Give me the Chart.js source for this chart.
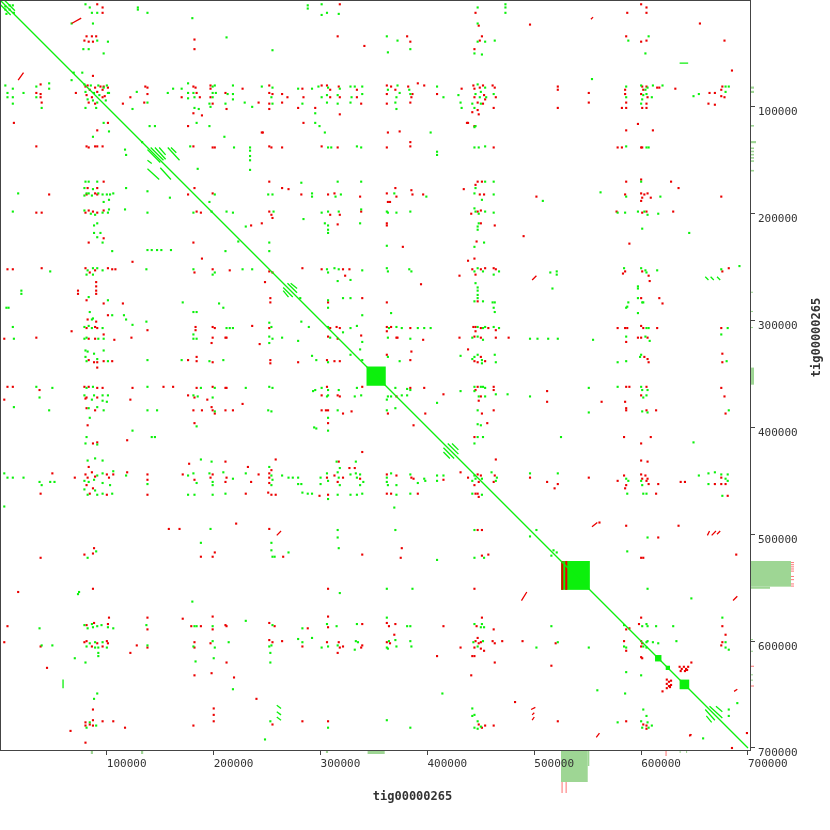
<!DOCTYPE html>
<html>
<head>
<meta charset="utf-8">
<script src="https://cdn.jsdelivr.net/npm/chart.js@4.4.1/dist/chart.umd.min.js"></script>
<style>
html, body { margin: 0; padding: 0; background: #fff; }
canvas { display: block; }
</style>
</head>
<body>
<canvas id="grafico" width="830" height="830"></canvas>
<script>
/*
* Dados do dotplot (posicoes em kb)
*/
const contigName = 'tig00000265'
const tickValues = [100000, 200000, 300000, 400000, 500000, 600000, 700000]
const axisMax = 701872
const diagonal = [0, 700]

// alinhamentos diretos (verde)
const fwdHits = [
  [5,6],[9,5],[12,5],[5,9],[9,9],[13,12],[6,13],
  [80,4],[84,7],[86,12],[91,12],[87,22],[129,7],[129,9],[138,12],[180,17],[67,22],[473,4],[473,7],[473,12],[447,7],[447,22],[288,5],[288,8],[301,4],[301,14],[306,12],[317,13],
  [91,38],[101,39],[78,46],[83,46],[97,50],[212,35],[255,47],[362,34],[372,38],[384,46],[363,49],[447,39],[454,39],[463,38],[444,50],[451,51],[588,38],[607,34],[604,50],
  [5,80],[7,87],[7,91],[12,83],[12,91],[12,97],[22,87],[34,81],[34,91],[39,101],[46,78],[46,83],[67,75],[69,68],[77,68],
  [79,79],[80,86],[85,80],[88,87],[92,80],[93,89],[82,93],[87,94],[91,96],[97,82],[99,94],[101,87],[80,101],[90,101],[100,80],[102,87],
  [128,86],[138,96],[124,102],[157,87],[162,83],[170,83],[176,78],[176,87],[176,92],[181,87],[182,91],[182,101],[186,102],[199,81],[201,80],[199,87],[202,87],[199,91],[196,97],[197,100],[213,88],[211,97],[218,88],[218,93],[218,80],[229,96],[236,100],[245,81],[255,82],[254,91],[255,97],[279,83],[283,97],[292,83],[295,106],[298,81],[301,91],[307,82],[306,89],[306,96],[318,83],[316,89],[316,97],[328,81],[332,81],[339,81],[329,91],[339,88],[328,96],
  [363,84],[372,80],[371,91],[370,96],[371,102],[374,87],[383,84],[384,88],[409,81],[415,91],[429,89],[431,96],[432,101],[445,118],
  [445,88],[447,79],[450,86],[449,91],[454,82],[455,91],[462,88],[442,97],[450,97],[444,101],[554,74],
  [586,81],[586,91],[600,80],[604,84],[606,82],[602,89],[605,88],[601,93],[600,97],[610,91],[611,80],[620,80],[649,90],[654,88],[679,81],[679,86],[682,81],
  [97,115],[87,128],[102,123],[140,118],[145,118],[184,115],[196,118],[210,128],[295,115],[299,118],[304,124],[403,124],[444,119],
  [117,140],[118,145],[178,137],[219,138],[234,138],[234,141],[234,146],[234,150],[234,159],[307,138],[310,138],[334,137],[338,138],[409,142],[409,145],[444,138],[448,138],[454,137],[586,137],[605,138],[607,138],[133,133],
  [80,170],[83,170],[91,170],[79,176],[87,177],[81,181],[83,181],[92,181],[79,183],[86,183],[96,182],[100,182],[103,182],[102,187],[97,189],[106,181],[17,181],[118,176],[138,179],[159,185],[185,158],[201,182],[196,189],[251,182],[255,182],[282,171],[292,181],[292,184],[314,184],[316,170],[319,182],[338,170],[369,181],[399,184],[445,176],[444,181],[454,170],[451,187],[462,170],[462,182],[508,188],[562,180],[586,184],[600,170],[618,184],
  [12,198],[79,197],[85,200],[89,201],[96,199],[101,199],[102,196],[117,196],[138,199],[181,199],[198,198],[212,198],[218,199],[256,198],[284,205],[301,199],[307,198],[317,198],[338,196],[304,209],[307,211],[307,215],[307,218],[337,209],[362,198],[363,199],[371,199],[384,198],[444,195],[445,198],[448,200],[454,198],[462,199],[448,209],[447,212],[447,215],[578,199],[585,199],[597,198],[603,198],[606,201],[616,200],[601,214],[645,218],[91,209],[88,211],[88,218],[91,222],[94,218],[96,227],[105,235],
  [138,234],[142,234],[147,234],[151,234],[160,234],[211,235],[223,226],[230,212],[252,227],[252,235],[362,230],[444,231],[453,227],
  [47,254],[82,253],[87,251],[91,251],[96,253],[81,257],[87,257],[137,252],[181,252],[201,255],[199,257],[227,252],[236,252],[306,252],[307,255],[313,251],[317,252],[339,253],[328,262],[316,263],[362,251],[363,254],[383,252],[385,254],[444,254],[447,251],[452,254],[462,257],[467,254],[445,265],[515,255],[521,254],[521,257],[517,270],[584,251],[600,251],[604,253],[605,255],[615,253],[675,252],[692,249],
  [20,272],[20,275],[83,278],[281,279],[328,279],[307,281],[321,279],[444,282],[452,282],[461,283],[463,283],[462,288],[463,292],[447,269],[447,272],[447,276],[447,279],[586,288],[588,283],[597,279],[597,293],[601,283],[597,268],[597,270],[6,288],[8,288],[366,293],[101,281],[171,283],[205,284],
  [12,306],[13,317],[79,306],[83,305],[86,307],[96,307],[79,317],[81,316],[92,317],[97,317],[86,299],[87,298],[84,292],[105,295],[116,295],[118,299],[124,304],[137,301],[181,292],[184,292],[181,313],[181,317],[184,317],[209,288],[212,307],[215,307],[218,307],[252,302],[254,306],[252,315],[255,317],[252,321],[264,316],[279,319],[282,301],[289,306],[307,288],[307,306],[309,316],[321,311],[328,307],[334,305],[339,320],[339,295],
  [364,307],[371,306],[376,307],[391,307],[397,307],[403,307],[363,316],[384,317],[442,316],[447,306],[452,307],[454,306],[462,306],[467,307],[447,315],[452,318],[496,317],[503,317],[513,317],[522,317],[555,318],[586,315],[587,287],[605,307],[607,307],[604,315],[608,319],[681,307],[675,313],[602,283],
  [80,328],[82,329],[88,331],[80,334],[81,338],[91,336],[101,338],[97,328],[138,337],[170,337],[196,338],[209,337],[292,333],[296,337],[307,339],[328,332],[339,337],[337,327],[363,334],[374,338],[431,333],[442,336],[444,334],[447,332],[451,337],[451,340],[463,332],[464,339],[578,339],[586,338],[599,334],[600,332],[680,338],
  [34,362],[49,363],[81,363],[87,362],[138,362],[188,363],[201,363],[230,363],[252,362],[255,363],[293,366],[295,365],[301,363],[307,365],[317,365],[334,363],[13,381],[37,372],[46,384],[79,370],[88,370],[86,374],[83,382],[91,381],[97,384],[96,370],[101,370],[96,375],[100,376],[138,384],[147,384],[181,370],[185,371],[199,372],[201,385],[251,384],[254,385],[306,371],[307,370],[316,384],[332,371],[338,370],
  [370,363],[381,364],[384,365],[431,366],[363,371],[366,371],[362,374],[376,370],[381,370],[444,362],[450,362],[452,362],[444,366],[454,363],[448,371],[454,371],[464,369],[475,369],[496,371],[551,363],[551,386],[578,362],[600,362],[601,365],[606,365],[602,372],[605,370],[601,385],[606,386],[682,384],[362,384],[370,382],[409,377],[447,384],
  [84,391],[81,409],[91,416],[80,415],[124,403],[142,409],[145,409],[184,399],[294,400],[296,401],[307,403],[307,391],[447,397],[450,398],[447,409],[452,409],[444,415],[525,409],[649,414],
  [4,443],[7,447],[12,447],[22,447],[4,474],[37,451],[39,454],[47,451],[51,451],[79,450],[83,451],[88,449],[91,445],[79,458],[89,459],[82,463],[91,463],[89,429],[82,431],[96,431],[96,443],[103,454],[96,452],[96,462],[105,462],[106,441],[118,445],[138,453],[176,445],[184,452],[181,443],[176,463],[182,463],[188,430],[196,443],[199,451],[199,454],[198,432],[209,442],[218,448],[199,463],[211,462],[230,443],[254,445],[252,437],[255,449],[254,454],[264,445],[270,447],[274,447],[279,447],[279,453],[282,453],[283,461],[288,462],[292,462],[300,447],[300,453],[306,443],[307,450],[307,467],[316,442],[317,447],[318,454],[328,444],[333,443],[337,444],[334,447],[340,451],[337,454],[328,463],[334,463],[339,462],[316,463],[315,432],[333,432],[318,438],
  [366,443],[362,447],[362,451],[371,454],[363,454],[371,463],[384,444],[391,452],[397,448],[398,450],[409,445],[409,450],[415,445],[384,462],[442,450],[444,445],[445,448],[451,448],[442,462],[451,463],[460,442],[465,447],[464,450],[496,443],[522,443],[586,448],[588,450],[600,450],[601,454],[602,462],[605,462],[587,462],[654,445],[663,443],[669,442],[675,444],[681,444],[663,453],[679,448],[681,450],[676,464],
  [369,475],[370,496],[409,524],[444,496],[444,522],[453,522],[502,496],[496,502],[606,503],[587,516],[516,520],[518,515],[521,517],[197,495],[316,496],[316,503],[317,513],[254,508],[254,515],[255,521],[257,521],[270,517],[188,508],[90,516],[82,522],
  [362,551],[386,551],[606,551],[647,560],[74,554],[73,556],[180,563],[318,555],
  [37,588],[39,604],[49,604],[79,585],[86,584],[91,586],[82,588],[87,587],[95,585],[101,587],[106,588],[84,602],[89,601],[81,605],[89,606],[92,606],[96,601],[100,606],[92,611],[92,614],[80,620],[70,616],[137,585],[138,604],[182,586],[184,586],[230,581],[181,605],[199,600],[201,606],[214,601],[183,619],[200,616],[199,586],[255,585],[254,604],[252,605],[279,598],[283,601],[283,588],[292,597],[301,606],[306,584],[307,605],[315,586],[316,604],[333,600],[335,601],[334,584],[332,608],[253,611],[253,620],
  [362,578],[364,600],[370,599],[371,605],[362,606],[363,607],[381,586],[384,586],[384,600],[385,605],[444,584],[450,587],[451,584],[453,587],[443,601],[452,600],[447,605],[502,606],[516,586],[522,601],[551,606],[584,585],[584,605],[586,606],[601,586],[605,584],[606,586],[614,586],[605,601],[606,600],[602,605],[605,606],[611,601],[616,602],[630,586],[633,600],[676,578],[679,601],[679,606],[682,608],
  [91,649],[88,654],[218,645],[84,676],[90,679],[81,681],[253,675],[307,681],[248,692],[414,649],[585,649],[559,646],[586,629],[600,632],[362,674],[384,681],[442,663],[444,669],[442,670],[447,675],[450,680],[444,681],[447,682],[578,676],[602,664],[605,670],[600,675],[606,676],[601,681],[607,681],[610,679],[658,691],[690,658],[682,664],[682,670]
]

// alinhamentos reversos (vermelho)
const revHits = [
  [91,4],[96,7],[96,12],[445,12],[448,24],[496,23],[587,12],[600,4],[605,7],[605,12],[655,22],[318,4],[17,554],
  [81,34],[86,34],[90,34],[79,38],[83,39],[87,39],[182,37],[182,46],[316,34],[341,43],[381,34],[384,39],[451,34],[449,38],[444,46],[586,34],[600,39],[605,38],[678,38],[685,66],
  [38,79],[38,88],[38,91],[34,87],[39,96],[71,87],[87,71],
  [80,81],[82,80],[84,84],[89,82],[91,86],[81,89],[86,91],[94,81],[96,84],[83,96],[89,97],[98,90],[97,81],[96,91],[101,82],
  [136,81],[138,82],[138,88],[135,96],[122,91],[115,97],[170,91],[181,81],[183,82],[184,87],[187,91],[181,106],[189,108],[197,80],[197,83],[197,91],[199,97],[211,87],[212,102],[227,83],[242,96],[246,124],[252,80],[252,87],[255,88],[252,97],[252,102],[264,88],[269,91],[264,96],[283,83],[284,91],[279,101],[295,101],[301,80],[306,80],[309,84],[309,91],[317,81],[318,91],[318,107],[334,84],[334,91],[338,97],
  [362,80],[362,88],[366,81],[370,84],[362,97],[382,81],[385,91],[384,96],[386,88],[391,78],[397,80],[409,88],[432,83],[437,115],
  [443,80],[444,83],[444,91],[449,82],[452,80],[453,89],[454,93],[461,80],[463,82],[464,91],[447,96],[452,97],[447,103],[448,107],[462,101],[442,105],
  [522,81],[522,84],[522,101],[551,87],[551,96],
  [585,84],[585,88],[582,101],[586,101],[586,96],[601,81],[602,84],[605,81],[600,88],[606,91],[605,97],[601,101],[605,101],[615,82],[617,82],[632,83],[664,87],[669,87],[676,81],[675,84],[678,91],[663,97],[669,98],[675,90],
  [13,115],[91,122],[101,115],[176,118],[245,124],[284,115],[363,124],[374,123],[438,115],[444,118],[597,116],[586,122],[611,122],
  [34,137],[81,137],[83,138],[89,137],[91,137],[96,137],[181,137],[199,138],[201,138],[252,137],[254,138],[264,138],[301,137],[316,138],[362,138],[384,137],[384,133],[462,138],[578,138],[582,138],[600,138],[601,138],
  [82,176],[91,176],[97,170],[89,181],[81,182],[91,182],[46,182],[182,176],[176,182],[199,181],[252,170],[264,176],[270,177],[282,182],[307,182],[313,181],[337,184],[362,181],[370,176],[371,184],[363,189],[365,189],[385,178],[386,182],[396,182],[434,177],[445,173],[449,182],[453,182],[447,170],[451,170],[502,184],[585,182],[586,170],[600,181],[601,185],[603,182],[606,181],[609,185],[628,170],[635,176],[675,184],[600,188],[600,168],
  [34,199],[39,199],[80,199],[83,197],[87,198],[91,199],[97,197],[184,198],[188,199],[252,198],[254,201],[255,204],[309,201],[318,201],[338,198],[316,210],[362,209],[362,211],[441,200],[447,198],[450,197],[450,209],[463,211],[577,198],[601,199],[605,198],[630,198],[490,221],[589,228],
  [83,227],[97,223],[181,227],[189,242],[235,211],[245,209],[377,231],[446,226],[444,242],[438,244],
  [7,252],[12,252],[39,251],[80,251],[84,255],[89,253],[101,251],[105,252],[108,252],[124,245],[182,255],[199,252],[215,253],[252,254],[255,255],[248,264],[283,251],[301,252],[321,252],[327,252],[323,258],[394,266],[430,258],[442,252],[445,257],[450,252],[454,251],[462,251],[464,252],[585,254],[583,256],[601,254],[607,258],[608,263],[676,254],[682,251],
  [73,272],[73,275],[90,264],[90,268],[90,272],[90,275],[81,281],[253,279],[253,283],[339,279],[307,283],[362,283],[447,282],[617,279],[620,284],[97,284],[115,284],[600,279],
  [4,317],[34,316],[67,310],[81,307],[89,306],[91,307],[97,313],[83,317],[89,317],[107,318],[82,299],[90,301],[101,295],[123,316],[138,309],[183,306],[183,309],[199,306],[201,307],[199,316],[198,321],[211,316],[212,316],[236,305],[243,322],[252,307],[309,307],[307,315],[315,306],[318,307],[316,317],[338,314],
  [362,306],[366,306],[362,310],[384,307],[371,316],[372,316],[396,318],[430,316],[444,315],[443,306],[445,306],[445,310],[450,307],[457,307],[464,309],[450,316],[464,316],[476,316],[578,307],[585,307],[587,307],[586,320],[600,305],[602,307],[615,307],[597,316],[600,316],[606,316],[675,307],
  [83,337],[88,339],[91,339],[97,338],[105,338],[91,344],[176,337],[184,334],[184,338],[199,339],[253,337],[253,340],[279,339],[306,337],[313,338],[318,338],[362,332],[384,337],[385,329],[438,327],[444,338],[450,334],[447,339],[454,338],[603,334],[606,336],[607,339],[676,331],[676,339],
  [7,362],[12,362],[37,365],[79,362],[83,362],[91,363],[96,363],[124,363],[153,362],[162,362],[184,363],[199,362],[211,363],[212,363],[306,362],[339,362],[4,374],[81,372],[80,373],[91,372],[81,382],[89,384],[122,374],[176,370],[182,372],[194,374],[199,384],[198,381],[201,387],[181,384],[189,384],[211,384],[218,384],[227,378],[301,370],[316,370],[318,371],[301,384],[305,384],[307,384],[321,387],[329,385],
  [384,363],[397,363],[415,369],[371,371],[447,362],[445,365],[462,362],[462,365],[450,371],[448,375],[512,366],[512,376],[563,376],[586,362],[589,362],[585,376],[586,382],[586,384],[605,362],[600,370],[605,384],[614,384],[675,363],[678,371],[679,387],[363,387],[387,398],[398,387],[451,387],[456,396],[462,384],
  [82,398],[87,415],[91,414],[119,412],[182,396],[307,396],[444,409],[584,409],[609,409],[600,415],[464,430],[600,431],[606,432],
  [38,462],[49,443],[70,447],[80,444],[82,447],[86,442],[89,446],[81,454],[87,457],[84,462],[83,437],[100,444],[102,447],[100,463],[106,444],[119,442],[138,444],[138,449],[138,463],[171,444],[182,449],[177,434],[199,444],[197,447],[211,432],[212,447],[211,451],[232,437],[235,451],[230,462],[242,444],[252,443],[254,440],[252,447],[252,452],[251,461],[254,463],[258,430],[258,463],[306,447],[299,464],[307,463],[313,445],[316,451],[321,447],[327,438],[332,438],[337,448],[317,432],[339,423],
  [362,444],[371,445],[362,462],[366,462],[385,447],[387,448],[415,449],[391,462],[431,442],[438,447],[447,444],[450,445],[448,451],[444,454],[445,462],[447,462],[448,465],[463,445],[462,451],[496,447],[512,451],[522,453],[519,457],[551,447],[578,450],[584,445],[586,454],[585,457],[600,444],[601,448],[604,445],[605,450],[606,448],[607,453],[614,462],[616,453],[637,451],[641,451],[669,453],[675,453],[679,453],[675,447],[681,464],
  [221,490],[158,495],[168,495],[252,495],[339,519],[265,521],[188,521],[199,521],[201,517],[88,513],[87,518],[79,519],[38,522],[376,513],[375,522],[447,496],[451,496],[451,520],[457,519],[561,489],[586,492],[616,503],[635,492],[600,522],[602,522],[689,519],
  [444,551],[87,551],[307,551],
  [7,586],[4,601],[38,605],[81,585],[88,583],[101,584],[102,578],[79,601],[81,600],[91,602],[86,605],[100,600],[101,602],[96,605],[122,611],[138,578],[138,589],[128,604],[138,606],[171,579],[179,586],[188,586],[199,577],[199,589],[211,585],[212,586],[182,601],[182,606],[197,602],[212,620],[252,583],[257,586],[252,599],[255,601],[264,600],[283,605],[288,588],[306,601],[307,587],[307,577],[317,601],[318,606],[321,605],[339,604],[338,606],[339,584],[316,611],
  [362,583],[364,586],[370,584],[362,601],[365,602],[369,594],[409,614],[415,586],[431,606],[446,586],[451,578],[445,600],[447,597],[448,602],[450,601],[444,606],[450,607],[453,609],[442,614],[444,614],[461,600],[463,602],[462,589],[470,600],[489,600],[520,602],[586,589],[589,588],[598,584],[600,578],[584,600],[586,609],[600,600],[601,602],[600,605],[600,615],[601,616],[676,586],[679,594],[676,601],[675,604],
  [636,624],[638,626],[640,624],[642,626],[644,624],[637,628],[641,628],[643,627],[624,636],[626,638],[624,640],[626,642],[624,644],[628,637],[628,641],[627,643],[647,620],[620,647],
  [44,625],[182,632],[198,630],[219,634],[240,654],[87,664],[87,674],[80,676],[80,679],[84,678],[87,679],[96,675],[106,675],[117,681],[66,684],[80,695],[181,679],[200,663],[200,669],[200,675],[255,678],[283,675],[307,675],[441,632],[463,620],[516,623],[448,678],[454,679],[451,681],[462,679],[482,657],[522,675],[586,675],[602,678],[605,679],[605,682],[646,688],[685,700],[699,686]
]

// segmentos [x0, y0, x1, y1]
const fwdSegs = [
  [0,4,10,14],[4,0,14,10],[636,59,644,59],[59,636,59,644],
  [138,140,150,152],[141,138,153,150],[145,138,155,149],[149,138,155,145],[157,138,168,150],[160,138,165,143],[138,158,149,168],[150,157,160,168],[138,150,142,153],
  [660,259,663,262],[665,259,668,262],[671,259,674,262],
  [259,660,263,663],[259,666,263,669],[259,671,263,674],
  [265,269,274,278],[265,272,270,278],[269,265,278,274],[272,265,278,270],
  [415,419,425,429],[419,415,429,425],[415,423,421,429],[423,415,429,421],
  [660,664,669,674],[661,670,666,676],[664,661,676,672],[670,661,676,666]
]
const revSegs = [
  [67,22,76,17],[17,75,22,68],[553,18,555,16],
  [498,262,502,258],[259,501,263,497],
  [554,493,559,489],[488,562,493,554],
  [662,501,664,497],[666,501,670,497],[671,500,674,497],
  [497,664,501,662],[498,669,500,667],[498,674,500,671],
  [686,562,690,558],[558,690,561,686],[687,647,690,645],[645,689,647,687]
]

// blocos densos [x0, x1, y0, y1]
const fwdBlocks = [[343,361,343,361],[525,552,525,552],[613,619,613,619],[623,627,623,627],[636,645,636,645]]
const revBlocks = [[525.3,527.1,525,552],[529,530.9,525,552]]

// cobertura [inicio, fim, profundidade]
const xCovFwd = [[85,87,3],[132,134,3],[305,307,2],[344,360,3],[525,550,31],[550,551.5,15],[636,637,2],[642,643,2]]
const xCovRev = [[525.5,526.5,11],[529.3,530.3,11],[622.8,623.8,5]]
const yCovFwd = [[81,83,3],[85,87,3],[117,118.5,3],[132,134,5],[138,139.5,3],[141,142.5,3],[144,145.5,3],[147,148.5,3],[150,151.5,3],[159,160.5,3],[273,274,2],[291,292,2],[306,307,2],[344,360,3],[525,549,40],[549,551,19],[598,599,2],[609,610,2],[631,632,2],[636,637,2]]
const yCovRev = [[526,526.8,3],[528,528.8,3],[530,530.8,3],[532,532.8,3],[534,534.8,3],[539,539.8,3],[542,542.8,3],[546,546.8,3],[548,548.8,3],[623,624,3],[641.5,642.5,3]]

const VERDE = 'rgb(12,240,12)'
const VERMELHO = 'rgb(235,0,0)'
const COBERTURA = 'rgb(158,214,148)'
const COBERTURA_REV = 'rgb(255,120,120)'
const EIXO = '#444'

const kb = v => v * 1000

const pontos = lista => lista.map(p => ({ x: kb(p[0]), y: kb(p[1]) }))

const segmentos = lista => {
    const saida = []
    lista.forEach(s => {
        saida.push({ x: kb(s[0]), y: kb(s[1]) })
        saida.push({ x: kb(s[2]), y: kb(s[3]) })
        saida.push({ x: kb(s[2]), y: null })
    })
    return saida
}

const profundidade = (lista, v) => {
    for (const c of lista) {
        if (v >= c[0] && v <= c[1]) return c[2]
    }
    return 0
}

/*
* Plugin: trilhas de cobertura (sob os rotulos), blocos, moldura e titulos
*/
const extras = {
    id: 'extras',
    beforeDraw(chart) {
        const { ctx, chartArea: a, scales: { x, y } } = chart
        ctx.save()

        // trilha de baixo
        xCovFwd.forEach(c => {
            const p0 = x.getPixelForValue(kb(c[0])), p1 = x.getPixelForValue(kb(c[1]))
            ctx.fillStyle = COBERTURA
            ctx.fillRect(p0, a.bottom + 1, Math.max(1, p1 - p0), c[2])
        })
        xCovRev.forEach(c => {
            const base = profundidade(xCovFwd, (c[0] + c[1]) / 2)
            const p0 = x.getPixelForValue(kb(c[0])), p1 = x.getPixelForValue(kb(c[1]))
            ctx.fillStyle = COBERTURA_REV
            ctx.fillRect(p0, a.bottom + 1 + base, Math.max(1, p1 - p0), c[2])
        })

        // trilha da direita
        yCovFwd.forEach(c => {
            const p0 = y.getPixelForValue(kb(c[0])), p1 = y.getPixelForValue(kb(c[1]))
            ctx.fillStyle = COBERTURA
            ctx.fillRect(a.right + 1, p0, c[2], Math.max(1, p1 - p0))
        })
        yCovRev.forEach(c => {
            const base = profundidade(yCovFwd, (c[0] + c[1]) / 2)
            const p0 = y.getPixelForValue(kb(c[0])), p1 = y.getPixelForValue(kb(c[1]))
            ctx.fillStyle = COBERTURA_REV
            ctx.fillRect(a.right + 1 + base, p0, c[2], Math.max(1, p1 - p0))
        })
        ctx.restore()
    },
    beforeDatasetsDraw(chart) {
        const { ctx, scales: { x, y } } = chart
        ctx.save()
        const bloco = (b, cor) => {
            const x0 = x.getPixelForValue(kb(b[0])), x1 = x.getPixelForValue(kb(b[1]))
            const y0 = y.getPixelForValue(kb(b[2])), y1 = y.getPixelForValue(kb(b[3]))
            ctx.fillStyle = cor
            ctx.fillRect(Math.min(x0, x1), Math.min(y0, y1), Math.abs(x1 - x0), Math.abs(y1 - y0))
        }
        fwdBlocks.forEach(b => bloco(b, VERDE))
        revBlocks.forEach(b => bloco(b, VERMELHO))
        ctx.restore()
    },
    afterDraw(chart) {
        const { ctx, chartArea: a } = chart
        ctx.save()

        ctx.strokeStyle = EIXO
        ctx.lineWidth = 1
        ctx.strokeRect(a.left + 0.5, a.top + 0.5, a.right - a.left, a.bottom - a.top)

        // titulos
        ctx.fillStyle = '#333'
        ctx.font = 'bold 12px "DejaVu Sans Mono"'
        ctx.textAlign = 'center'
        ctx.textBaseline = 'middle'
        ctx.fillText(contigName, a.left + (a.right - a.left) * 0.55, a.bottom + 47)
        ctx.translate(a.right + 67, a.top + (a.bottom - a.top) * 0.45)
        ctx.rotate(-Math.PI / 2)
        ctx.fillText(contigName, 0, 0)
        ctx.restore()
    }
}

const fonteTicks = { family: '"DejaVu Sans Mono"', size: 11 }

const eixo = (posicao, reverso, tamanho) => ({
    type: 'linear',
    position: posicao,
    reverse: reverso,
    min: 0,
    max: axisMax,
    grid: { drawOnChartArea: false, drawTicks: true, tickLength: 5, color: EIXO },
    border: { display: true, color: EIXO, width: 1 },
    ticks: {
        color: '#333',
        font: fonteTicks,
        padding: 3,
        align: 'start',
        maxRotation: 0,
        autoSkip: false,
        callback: v => String(v)
    },
    afterBuildTicks: s => { s.ticks = tickValues.map(v => ({ value: v })) },
    afterFit: s => {
        if (posicao === 'right') s.width = tamanho
        else s.height = tamanho
        // sem folga extra para os rotulos
        s.paddingTop = 0
        s.paddingBottom = 0
        s.paddingLeft = 0
        s.paddingRight = 0
    }
})

const ctx = document.getElementById('grafico').getContext('2d')

new Chart(ctx, {
    type: 'scatter',
    data: {
        datasets: [
            {
                type: 'line',
                data: [{ x: kb(diagonal[0]), y: kb(diagonal[0]) }, { x: kb(diagonal[1]), y: kb(diagonal[1]) }],
                borderColor: VERDE,
                borderWidth: 1.3,
                pointRadius: 0,
                fill: false
            },
            {
                type: 'line',
                data: segmentos(fwdSegs),
                borderColor: VERDE,
                borderWidth: 1.3,
                pointRadius: 0,
                spanGaps: false,
                fill: false
            },
            {
                type: 'line',
                data: segmentos(revSegs),
                borderColor: VERMELHO,
                borderWidth: 1.3,
                pointRadius: 0,
                spanGaps: false,
                fill: false
            },
            {
                data: pontos(fwdHits),
                pointStyle: 'rect',
                pointRadius: 1.5,
                pointBorderWidth: 0,
                backgroundColor: VERDE,
                borderColor: VERDE
            },
            {
                data: pontos(revHits),
                pointStyle: 'rect',
                pointRadius: 1.5,
                pointBorderWidth: 0,
                backgroundColor: VERMELHO,
                borderColor: VERMELHO
            }
        ]
    },
    options: {
        responsive: false,
        devicePixelRatio: 1,
        animation: false,
        layout: { padding: 0, autoPadding: false },
        plugins: {
            legend: { display: false },
            tooltip: { enabled: false },
            title: { display: false }
        },
        scales: {
            x: eixo('bottom', false, 80),
            y: eixo('right', true, 80)
        }
    },
    plugins: [extras]
})
</script>
</body>
</html>
